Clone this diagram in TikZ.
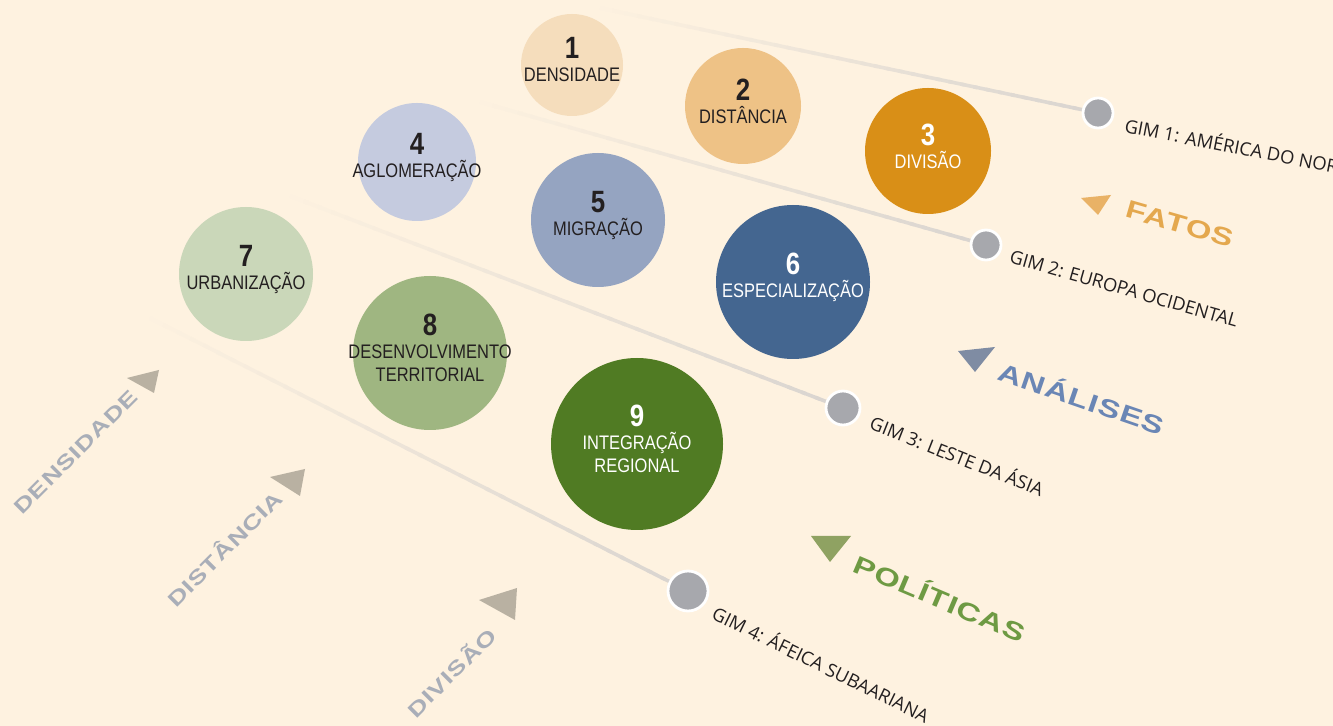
\documentclass[tikz,border=0pt]{standalone}
\usepackage{fontspec}
\setmainfont{Liberation Sans}
\newfontfamily\bubfont[FakeStretch=0.84]{Liberation Sans}
\newfontfamily\tagfont[FakeStretch=1.32,LetterSpace=4]{Liberation Sans}
\newfontfamily\gimfont{Open Sans}
\usetikzlibrary{calc}

\definecolor{BgCream}{HTML}{FEF2E0}
\definecolor{TextDark}{HTML}{231F20}
\definecolor{DotGray}{HTML}{A7A8AD}
\definecolor{LineGray}{HTML}{A2A9B8}
\definecolor{BubDens}{HTML}{F5DDBC}
\definecolor{BubDist}{HTML}{EEC286}
\definecolor{BubDivi}{HTML}{D98F17}
\definecolor{BubAglo}{HTML}{C5CBDF}
\definecolor{BubMigr}{HTML}{95A4C1}
\definecolor{BubEspe}{HTML}{446690}
\definecolor{BubUrba}{HTML}{CAD7B9}
\definecolor{BubDese}{HTML}{9FB681}
\definecolor{BubInte}{HTML}{507B23}
\definecolor{TriFatos}{HTML}{E9B266}
\definecolor{TxtFatos}{HTML}{E4A84E}
\definecolor{TriAnal}{HTML}{7F8CA3}
\definecolor{TxtAnal}{HTML}{6A86B5}
\definecolor{TriPoli}{HTML}{8FA262}
\definecolor{TxtPoli}{HTML}{6E9A43}
\definecolor{TriLeft}{HTML}{B9B1A2}
\definecolor{TxtLeft}{HTML}{A9AEB8}

\tikzstyle{bubble}=[circle, inner sep=0pt]
\tikzstyle{bub-text}=[align=center, inner sep=0pt, yshift=2.5pt, text=TextDark, font=\bubfont\fontsize{9.8}{11.5}\selectfont]
\tikzstyle{gim-point}=[circle, inner sep=0pt, fill=DotGray, draw=white, line width=1.4pt]
\tikzstyle{gim-label}=[anchor=west, inner sep=0pt, text=TextDark, font=\gimfont\fontsize{9.2}{10}\selectfont]
\tikzstyle{tag-label}=[inner sep=0pt, font=\tagfont\bfseries\fontsize{12.5}{14}\selectfont]
\tikzstyle{side-label}=[inner sep=0pt, text=TxtLeft, rotate=45, font=\tagfont\bfseries\fontsize{10.2}{12}\selectfont]
\newcommand{\num}[1]{{\fontsize{15.4}{11.5}\selectfont\bfseries #1}}

\begin{document}
\begin{tikzpicture}[x=0.5pt, y=-0.5pt]
      \fill[BgCream] (0,0) rectangle (1333,726);
      \useasboundingbox (0,0) rectangle (1333,726);
      \clip (0,0) rectangle (1333,726);

      % fading lines
      \coordinate (s1) at (600,8);
      \coordinate (s2) at (480,102);
      \coordinate (s3) at (290,196);
      \coordinate (s4) at (150,318);
      \coordinate (e1) at (1098,113);
      \coordinate (e2) at (986,245);
      \coordinate (e3) at (843,408);
      \coordinate (e4) at (688,591);
      \foreach \a/\b in {s1/e1, s2/e2, s3/e3, s4/e4}
        \foreach \k [evaluate=\k as \pct using int(100*(\k/40)^1.25)] in {1,...,40}
          \draw[line width=1.8pt, LineGray!\pct!BgCream] ($(\a)!{(\k-1)/40}!(\b)$) -- ($(\a)!{(\k+0.3)/40}!(\b)$);

      % bubbles
      \node (dens) at (572,65) [bubble, fill=BubDens, minimum size=51pt] {};
      \node (dist) at (743,106) [bubble, fill=BubDist, minimum size=58pt] {};
      \node (divi) at (928,151) [bubble, fill=BubDivi, minimum size=63pt] {};
      \node (aglo) at (417,162) [bubble, fill=BubAglo, minimum size=59pt] {};
      \node (migr) at (598,220) [bubble, fill=BubMigr, minimum size=67pt] {};
      \node (espe) at (793,282) [bubble, fill=BubEspe, minimum size=77pt] {};
      \node (urba) at (246,274) [bubble, fill=BubUrba, minimum size=67pt] {};
      \node (dese) at (430,353) [bubble, fill=BubDese, minimum size=77pt] {};
      \node (inte) at (637,444) [bubble, fill=BubInte, minimum size=86pt] {};

      \node (dens-t) at (dens) [bub-text] {\num{1}\\DENSIDADE};
      \node (dist-t) at (dist) [bub-text] {\num{2}\\DISTÂNCIA};
      \node (divi-t) at (divi) [bub-text, text=white] {\num{3}\\DIVISÃO};
      \node (aglo-t) at (aglo) [bub-text] {\num{4}\\AGLOMERAÇÃO};
      \node (migr-t) at (migr) [bub-text] {\num{5}\\MIGRAÇÃO};
      \node (espe-t) at (espe) [bub-text, text=white] {\num{6}\\ESPECIALIZAÇÃO};
      \node (urba-t) at (urba) [bub-text] {\num{7}\\URBANIZAÇÃO};
      \node (dese-t) at (dese) [bub-text] {\num{8}\\DESENVOLVIMENTO\\TERRITORIAL};
      \node (inte-t) at (inte) [bub-text, text=white] {\num{9}\\INTEGRAÇÃO\\REGIONAL};

      % GIM points
      \node (gim1) at (e1) [gim-point, minimum size=15pt] {};
      \node (gim2) at (e2) [gim-point, minimum size=15pt] {};
      \node (gim3) at (e3) [gim-point, minimum size=17pt] {};
      \node (gim4) at (e4) [gim-point, minimum size=20pt] {};
      \node (gim1-l) at (1125,124) [gim-label, rotate=-11] {GIM 1: AMÉRICA DO NORTE};
      \node (gim2-l) at (1010,256) [gim-label, rotate=-16] {GIM 2: EUROPA OCIDENTAL};
      \node (gim3-l) at (871,421) [gim-label, rotate=-21.5] {GIM 3: LESTE DA ÁSIA};
      \node (gim4-l) at (714,611) [gim-label, rotate=-26] {GIM 4: ÁFEICA SUBAARIANA};

      % right tags
      \fill[TriFatos] (1081,198) -- (1111,195) -- (1098,215) -- cycle;
      \fill[TriAnal] (958,351) -- (995,347) -- (975,372) -- cycle;
      \fill[TriPoli] (811,536) -- (851,536) -- (830,562) -- cycle;
      \node (fatos) at (1180,224) [tag-label, text=TxtFatos, rotate=-16] {FATOS};
      \node (anal) at (1082,397) [tag-label, text=TxtAnal, rotate=-19] {ANÁLISES};
      \node (poli) at (940,597) [tag-label, text=TxtPoli, rotate=-23] {POLÍTICAS};

      % left tags
      \fill[TriLeft] (127,378) -- (159,370) -- (154,393) -- cycle;
      \fill[TriLeft] (270,477) -- (305,469) -- (300,496) -- cycle;
      \fill[TriLeft] (479,600) -- (517,588) -- (515,620) -- cycle;
      \node (dens-l) at (76,452) [side-label] {DENSIDADE};
      \node (dist-l) at (224,548) [side-label] {DISTÂNCIA};
      \node (divi-l) at (451,672) [side-label] {DIVISÃO};
    \end{tikzpicture}
\end{document}
